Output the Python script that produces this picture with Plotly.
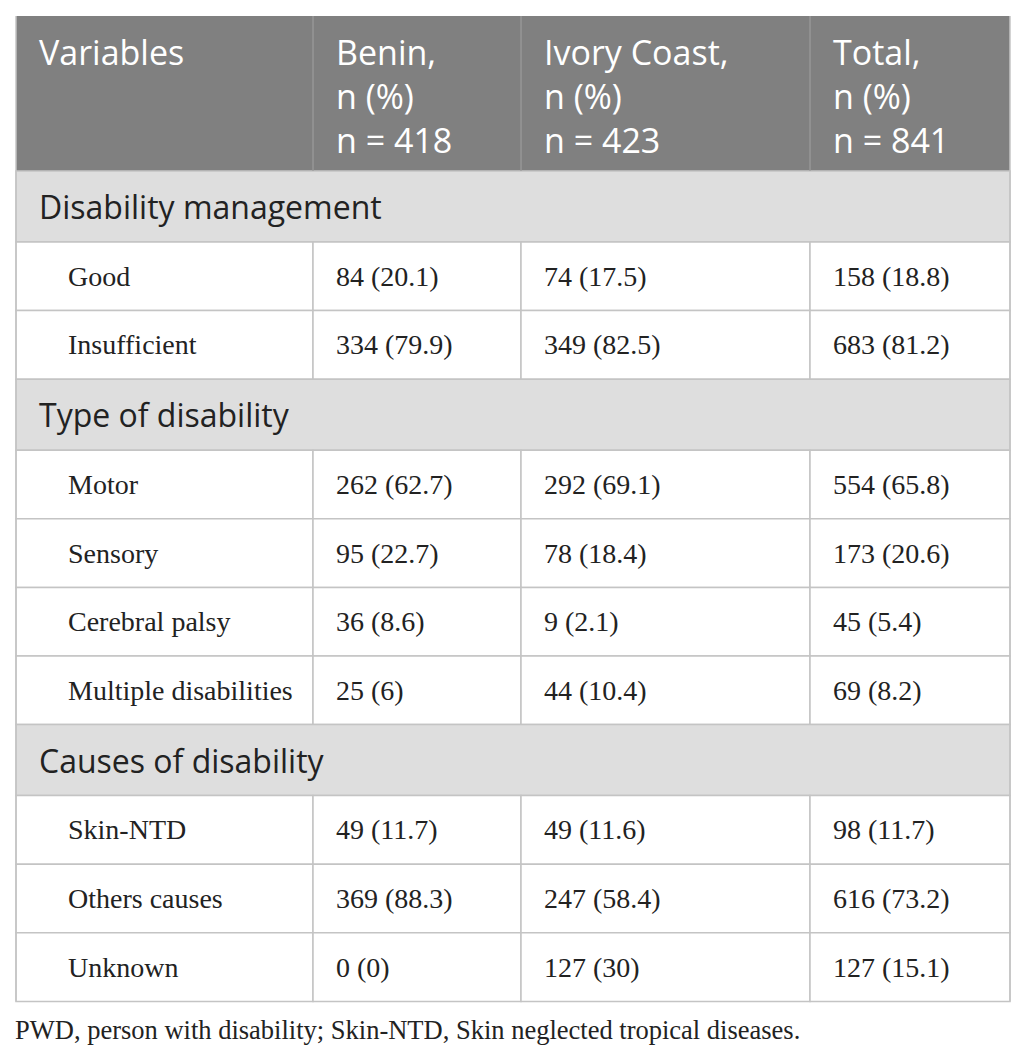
import plotly.graph_objects as go

# table content
countries = ["Benin", "Ivory Coast", "Total"]
country_n = [418, 423, 841]

sections = ["Disability management", "Type of disability", "Causes of disability"]
section_vars = [
    ["Good", "Insufficient"],
    ["Motor", "Sensory", "Cerebral palsy", "Multiple disabilities"],
    ["Skin-NTD", "Others causes", "Unknown"],
]

benin_n = [84, 334, 262, 95, 36, 25, 49, 369, 0]
benin_pct = [20.1, 79.9, 62.7, 22.7, 8.6, 6, 11.7, 88.3, 0]
ivory_n = [74, 349, 292, 78, 9, 44, 49, 247, 127]
ivory_pct = [17.5, 82.5, 69.1, 18.4, 2.1, 10.4, 11.6, 58.4, 30]
total_n = [158, 683, 554, 173, 45, 69, 98, 616, 127]
total_pct = [18.8, 81.2, 65.8, 20.6, 5.4, 8.2, 11.7, 73.2, 15.1]

footnote = "PWD, person with disability; Skin-NTD, Skin neglected tropical diseases."

# layout constants (pixels of the page)
W, H = 1026, 1058
off = 8  # page body margin
col_edges = [16, 313, 521, 810, 1010]
top = 16
header_h = 155
section_h = 71
row_h = 68.6
pad = 21
indent = 50

header_fill = "#808080"
section_fill = "#dedede"
grid = "#c4c4c4"
header_grid = "#9c9c9c"
text_dark = "#222222"
sans = "Open Sans"
serif = "Liberation Serif"

columns = [
    [f"{n} ({p:g})" for n, p in zip(benin_n, benin_pct)],
    [f"{n} ({p:g})" for n, p in zip(ivory_n, ivory_pct)],
    [f"{n} ({p:g})" for n, p in zip(total_n, total_pct)],
]

fig = go.Figure()
shapes = []
annotations = []

left, right = col_edges[0], col_edges[-1]

# header
y0 = top
y1 = top + header_h
shapes.append(dict(type="rect", x0=left, x1=right, y0=y0, y1=y1,
                   fillcolor=header_fill, line_width=0, layer="below"))
for xe in col_edges[1:-1]:
    shapes.append(dict(type="line", x0=xe, x1=xe, y0=y0, y1=y1,
                       line=dict(color=header_grid, width=1.2)))
header_labels = ["Variables"] + [f"{c},<br>n (%)<br>n = {n}" for c, n in zip(countries, country_n)]
for i, lab in enumerate(header_labels):
    annotations.append(dict(x=col_edges[i] + pad, y=y0 + 11, text=lab, showarrow=False,
                            xanchor="left", yanchor="top", align="left",
                            font=dict(family=sans, size=34, color="white")))

y = y1
k = 0
for sec, names in zip(sections, section_vars):
    # section row spans all columns
    shapes.append(dict(type="rect", x0=left, x1=right, y0=y, y1=y + section_h,
                       fillcolor=section_fill, line=dict(color=grid, width=1.5), layer="below"))
    annotations.append(dict(x=left + pad, y=y + section_h / 2, text=sec, showarrow=False,
                            xanchor="left", yanchor="middle",
                            font=dict(family=sans, size=32, color=text_dark)))
    y += section_h
    for name in names:
        for c in range(4):
            shapes.append(dict(type="rect", x0=col_edges[c], x1=col_edges[c + 1],
                               y0=y, y1=y + row_h, fillcolor="white",
                               line=dict(color=grid, width=1.5), layer="below"))
        annotations.append(dict(x=left + indent, y=y + row_h / 2, text=name, showarrow=False,
                                xanchor="left", yanchor="middle",
                                font=dict(family=serif, size=28, color=text_dark)))
        for c in range(3):
            annotations.append(dict(x=col_edges[c + 1] + pad, y=y + row_h / 2,
                                    text=columns[c][k], showarrow=False,
                                    xanchor="left", yanchor="middle",
                                    font=dict(family=serif, size=28, color=text_dark)))
        y += row_h
        k += 1

# outer sides
shapes.append(dict(type="line", x0=left, x1=left, y0=top, y1=y, line=dict(color=grid, width=1.5)))
shapes.append(dict(type="line", x0=right, x1=right, y0=top, y1=y, line=dict(color=grid, width=1.5)))

annotations.append(dict(x=left - 3, y=y + 29, text=footnote, showarrow=False,
                        xanchor="left", yanchor="middle",
                        font=dict(family=serif, size=26.5, color=text_dark)))

fig.update_layout(
    width=W, height=H,
    margin=dict(l=0, r=0, t=0, b=0),
    paper_bgcolor="white", plot_bgcolor="white",
    shapes=shapes, annotations=annotations,
    showlegend=False,
)
fig.update_xaxes(range=[off, W + off], visible=False, fixedrange=True)
fig.update_yaxes(range=[H + off, off], visible=False, fixedrange=True)

fig.write_html("out.html")
